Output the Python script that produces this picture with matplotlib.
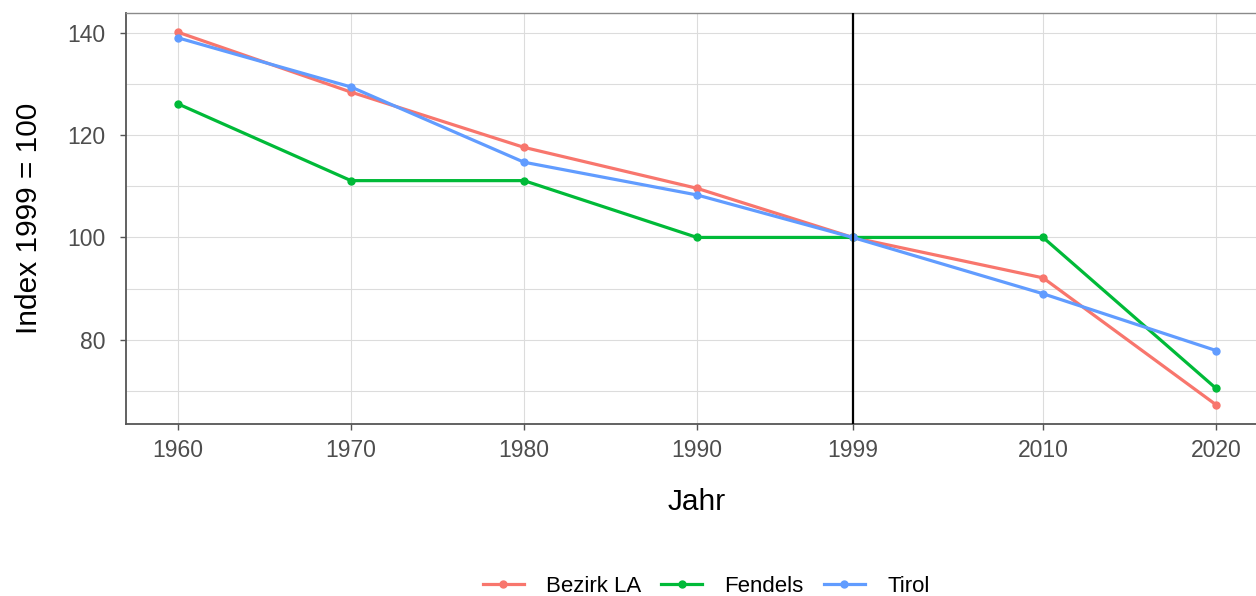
import numpy as np
import matplotlib.pyplot as plt
from matplotlib.lines import Line2D

# Data (index, 1999 = 100)
years = [1960, 1970, 1980, 1990, 1999, 2010, 2020]
bezirk_la = [140.1, 128.4, 117.6, 109.6, 100.0, 92.1, 67.3]
fendels = [126.1, 111.1, 111.1, 100.0, 100.0, 100.0, 70.5]
tirol = [139.0, 129.4, 114.7, 108.3, 100.0, 89.0, 77.9]

series_names = ['Bezirk LA', 'Fendels', 'Tirol']
series_colors = ['#F8766D', '#00BA38', '#619CFF']

plt.rcParams['font.family'] = ['Liberation Sans', 'DejaVu Sans']

W, H = 1256, 596
fig = plt.figure(figsize=(W / 100, H / 100), dpi=100)

# panel runs past the right edge, as in the reference (cropped)
left, right, top, bottom = 126, 1268, 13, 424
ax = fig.add_axes([left / W, 1 - bottom / H, (right - left) / W, (bottom - top) / H])

grid_col = '#DCDCDC'
ax.set_xlim(1957, 2023)
ax.set_ylim(63.55, 143.85)
ax.set_xticks(years)
ax.set_yticks([80, 100, 120, 140])
ax.set_yticks([70, 90, 110, 130], minor=True)
ax.grid(True, which='major', color=grid_col, linewidth=0.8)
ax.grid(True, which='minor', axis='y', color=grid_col, linewidth=0.8)
ax.set_axisbelow(True)

for vals, name, col in zip([bezirk_la, fendels, tirol], series_names, series_colors):
    ax.plot(years, vals, color=col, linewidth=2.3, marker='o', markersize=5,
            label=name, zorder=3)

ax.axvline(1999, color='black', linewidth=1.6, zorder=4)

for side in ['top', 'right']:
    ax.spines[side].set_color('#8A8A8A')
    ax.spines[side].set_linewidth(1.0)
for side in ['left', 'bottom']:
    ax.spines[side].set_color('#555555')
    ax.spines[side].set_linewidth(1.3)

ax.tick_params(axis='both', which='major', colors='#555555', labelcolor='#4D4D4D',
               labelsize=16.5, length=4.5, width=1)
ax.tick_params(axis='y', which='minor', length=0)
ax.tick_params(axis='x', pad=6)
ax.tick_params(axis='y', pad=10)

ax.set_xlabel('Jahr', fontsize=21.5, labelpad=19)
ax.set_ylabel('Index 1999 = 100', fontsize=21.5, labelpad=18)

handles = [Line2D([], [], color=c, linewidth=2.3, marker='o', markersize=5) for c in series_colors]
fig.legend(handles, series_names, loc='center', bbox_to_anchor=(706 / W, 1 - 586 / H),
           ncol=3, frameon=False, fontsize=16, handlelength=1.85, handletextpad=1.0,
           columnspacing=0.9)

fig.savefig('out.png', dpi=100)
